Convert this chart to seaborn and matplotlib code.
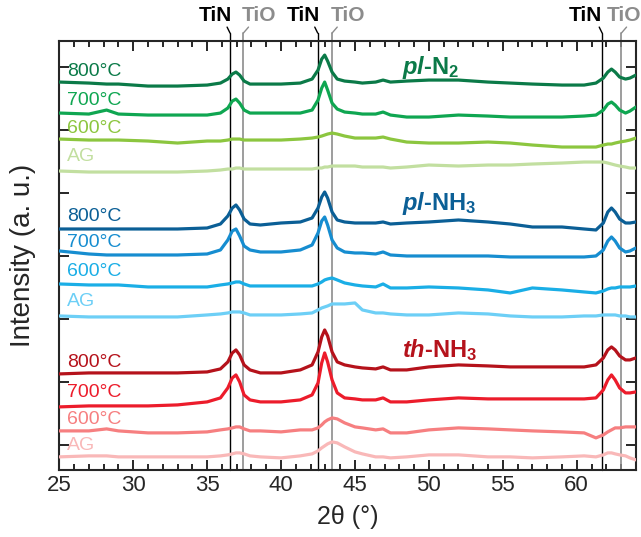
import numpy as np
import pandas as pd
import matplotlib
matplotlib.use("Agg")
import matplotlib.pyplot as plt
from matplotlib.ticker import MultipleLocator
import seaborn as sns

# 2-theta sampling points (degrees)
two_theta = [25, 27, 28.2, 29, 31, 33, 35, 35.9, 36.4, 36.7, 36.95, 37.2, 37.5, 37.9, 38.6,
             40, 41.3, 42.1, 42.5, 42.75, 42.95, 43.15, 43.45, 43.8, 44.3, 45.0, 45.5, 46.4,
             46.9, 47.4, 48.5, 50, 52, 54, 55.5, 57, 59, 60.5, 61.3, 61.8, 62.1, 62.35, 62.6,
             62.9, 63.3, 63.6, 64]

# stacked intensities (a. u.)
pl_n2_800 = [363, 362, 361, 361, 359, 359, 360, 362, 366, 371, 373, 370, 364, 361, 361, 361, 362, 366,
             375, 386, 390, 384, 373, 366, 364, 363, 362, 363, 365, 363, 364, 365, 365, 363, 362, 361,
             360, 360, 362, 367, 373, 376, 373, 368, 366, 367, 370]
pl_n2_700 = [332, 331, 335, 331, 330, 330, 330, 332, 337, 344, 346, 342, 335, 332, 332, 332, 332, 335,
             345, 357, 363, 355, 342, 336, 333, 332, 331, 331, 333, 330, 328, 328, 330, 329, 328, 328,
             328, 329, 330, 335, 341, 343, 340, 335, 332, 334, 338]
pl_n2_600 = [306, 305, 305, 305, 304, 302, 304, 304, 305, 306, 306, 306, 305, 305, 305, 305, 306, 307,
             308, 309, 310, 311, 312, 311, 309, 307, 307, 307, 308, 306, 303, 302, 302, 303, 302, 300,
             298, 298, 298, 300, 301, 301, 302, 303, 304, 305, 307]
pl_n2_ag = [274, 273, 273, 273, 273, 273, 274, 275, 276, 276, 277, 277, 276, 276, 276, 276, 276, 276,
            277, 277, 278, 278, 279, 279, 279, 279, 278, 278, 278, 277, 278, 280, 279, 280, 280, 281,
            282, 283, 283, 283, 282, 281, 280, 279, 278, 277, 277]

pl_nh3_800 = [216, 216, 216, 216, 216, 216, 217, 221, 229, 237, 240, 235, 226, 221, 220, 222, 223, 227,
              237, 248, 253, 247, 233, 225, 223, 222, 222, 222, 223, 221, 222, 223, 225, 223, 221, 218,
              218, 216, 215, 222, 233, 237, 233, 226, 222, 222, 223]
pl_nh3_700 = [194, 191, 190, 190, 190, 190, 191, 195, 205, 214, 216, 209, 199, 195, 193, 193, 195, 200,
              212, 224, 228, 220, 205, 197, 193, 192, 192, 191, 193, 190, 189, 189, 189, 189, 188, 188,
              188, 188, 189, 195, 204, 208, 204, 197, 193, 194, 197]
pl_nh3_600 = [161, 160, 160, 160, 158, 158, 158, 160, 161, 162, 163, 163, 161, 159, 159, 159, 159, 159,
              161, 163, 165, 166, 167, 165, 162, 160, 159, 158, 161, 157, 157, 158, 157, 155, 152, 157,
              155, 153, 152, 154, 156, 157, 157, 158, 158, 158, 159]
pl_nh3_ag = [129, 128, 128, 128, 128, 128, 130, 131, 132, 133, 133, 133, 132, 130, 130, 130, 131, 132,
             135, 137, 138, 139, 141, 141, 141, 142, 135, 132, 132, 131, 130, 130, 132, 131, 129, 128,
             128, 129, 129, 130, 130, 130, 130, 129, 129, 128, 128]

th_nh3_800 = [71, 72, 72, 72, 72, 72, 73, 76, 83, 92, 95, 90, 80, 75, 72, 72, 75, 80, 93, 108, 115, 109,
              93, 83, 80, 78, 77, 76, 78, 75, 75, 78, 80, 79, 78, 78, 78, 78, 80, 87, 95, 98, 95, 89,
              85, 85, 87]
th_nh3_700 = [38, 39, 39, 39, 39, 40, 43, 47, 57, 67, 70, 63, 50, 45, 43, 43, 45, 50, 62, 82, 92, 83,
              65, 52, 47, 46, 45, 45, 47, 43, 43, 45, 47, 46, 46, 46, 46, 46, 47, 55, 65, 70, 65, 57,
              52, 52, 53]
th_nh3_600 = [14, 14, 16, 14, 12, 12, 13, 15, 16, 17, 18, 18, 16, 14, 14, 13, 15, 15, 17, 20, 23, 25,
              27, 26, 22, 18, 17, 15, 16, 12, 12, 15, 17, 16, 15, 14, 13, 12, 7, 10, 13, 15, 17, 17,
              18, 18, 18]
th_nh3_ag = [-12, -11, -11, -12, -12, -12, -12, -11, -10, -9, -8, -8, -9, -11, -12, -13, -11, -9, -6,
             -3, -1, 1, 3, 2, -2, -7, -9, -12, -12, -13, -12, -10, -10, -12, -12, -13, -12, -11, -12,
             -10, -8, -8, -9, -10, -11, -13, -15]

trace_names = ["pl-N2 800", "pl-N2 700", "pl-N2 600", "pl-N2 AG",
               "pl-NH3 800", "pl-NH3 700", "pl-NH3 600", "pl-NH3 AG",
               "th-NH3 800", "th-NH3 700", "th-NH3 600", "th-NH3 AG"]
trace_values = [pl_n2_800, pl_n2_700, pl_n2_600, pl_n2_ag,
                pl_nh3_800, pl_nh3_700, pl_nh3_600, pl_nh3_ag,
                th_nh3_800, th_nh3_700, th_nh3_600, th_nh3_ag]
trace_labels = ["800°C", "700°C", "600°C", "AG"] * 3
label_y = [374, 345, 317, 289, 228, 202, 173, 143, 82, 52, 25, -1]
trace_colors = ["#0b7a48", "#0fa651", "#8cc63f", "#c2dfa0",
                "#0b5f96", "#168dd0", "#1aaee6", "#6dcff6",
                "#b5121b", "#ec1c2b", "#f67f80", "#f9b8b8"]

# reference peak positions and where their tags sit
tin_peaks = [36.55, 42.48, 61.72]
tio_peaks = [37.45, 43.45, 63.02]
tin_tag_x = [36.7, 42.63, 61.72]
tio_tag_x = [37.33, 43.33, 62.0]

groups = [r"$\mathbfit{pl}$-N$_\mathbf{2}$", r"$\mathbfit{pl}$-NH$_\mathbf{3}$",
          r"$\mathbfit{th}$-NH$_\mathbf{3}$"]
group_y = [378, 242, 95]
group_colors = ["#0b7a48", "#0b5f96", "#b5121b"]

rows = []
for name, vals in zip(trace_names, trace_values):
    assert len(vals) == len(two_theta), name
    for x, v in zip(two_theta, vals):
        rows.append({"two_theta": x, "intensity": v, "trace": name})
df = pd.DataFrame(rows)

sns.set_style("ticks")
plt.rcParams["font.family"] = ["Liberation Sans", "DejaVu Sans"]
plt.rcParams["mathtext.fontset"] = "custom"
plt.rcParams["mathtext.rm"] = "Liberation Sans"
plt.rcParams["mathtext.it"] = "Liberation Sans:italic"
plt.rcParams["mathtext.bf"] = "Liberation Sans:bold"
plt.rcParams["mathtext.bfit"] = "Liberation Sans:italic:bold"

fig = plt.figure(figsize=(6.41, 5.37), dpi=100)
ax = fig.add_axes([0.0925, 0.125, 0.8995, 0.7985])

# reference lines
ymin, ymax = -25, 404
for x, tx in zip(tio_peaks, tio_tag_x):
    ax.plot([x, x], [ymin, 412], color="#8c8c8c", lw=1.2, clip_on=False, zorder=1)
    ax.plot([x, x + 0.35], [412, 418], color="#8c8c8c", lw=1.0, clip_on=False)
    ax.text(tx, 430, "TiO", color="#8c8c8c", fontsize=15, fontweight="bold",
            ha="left", va="center")
for x, tx in zip(tin_peaks, tin_tag_x):
    ax.plot([x, x], [ymin, 412], color="black", lw=1.0, clip_on=False, zorder=1)
    ax.plot([x, x - 0.2], [412, 418], color="black", lw=1.0, clip_on=False)
    ax.text(tx, 430, "TiN", color="black", fontsize=15, fontweight="bold",
            ha="right", va="center")

sns.lineplot(data=df, x="two_theta", y="intensity", hue="trace", hue_order=trace_names,
             palette=dict(zip(trace_names, trace_colors)), estimator=None, sort=False,
             lw=2.3, legend=False, ax=ax, zorder=3)

for lab, y, c in zip(trace_labels, label_y, trace_colors):
    ax.text(25.5, y, lab, color=c, fontsize=14, ha="left", va="center")
for g, y, c in zip(groups, group_y, group_colors):
    ax.text(48.2, y, g, color=c, fontsize=17, fontweight="bold", ha="left", va="center")

ax.set_xlim(25, 64)
ax.set_ylim(ymin, ymax)
ax.xaxis.set_major_locator(MultipleLocator(5))
ax.xaxis.set_minor_locator(MultipleLocator(1))
ax.set_yticks([0, 63, 126, 189, 252, 315, 378])
ax.set_yticklabels([])
ax.tick_params(which="both", direction="in", top=True, right=True, width=1.4, labelsize=16)
ax.tick_params(which="major", length=7)
ax.tick_params(which="minor", length=4)
for s in ax.spines.values():
    s.set_linewidth(1.5)
ax.set_xlabel("2θ (°)", fontsize=18, labelpad=7)
ax.set_ylabel("Intensity (a. u.)", fontsize=20, labelpad=13)

fig.savefig("out.png", dpi=100)
